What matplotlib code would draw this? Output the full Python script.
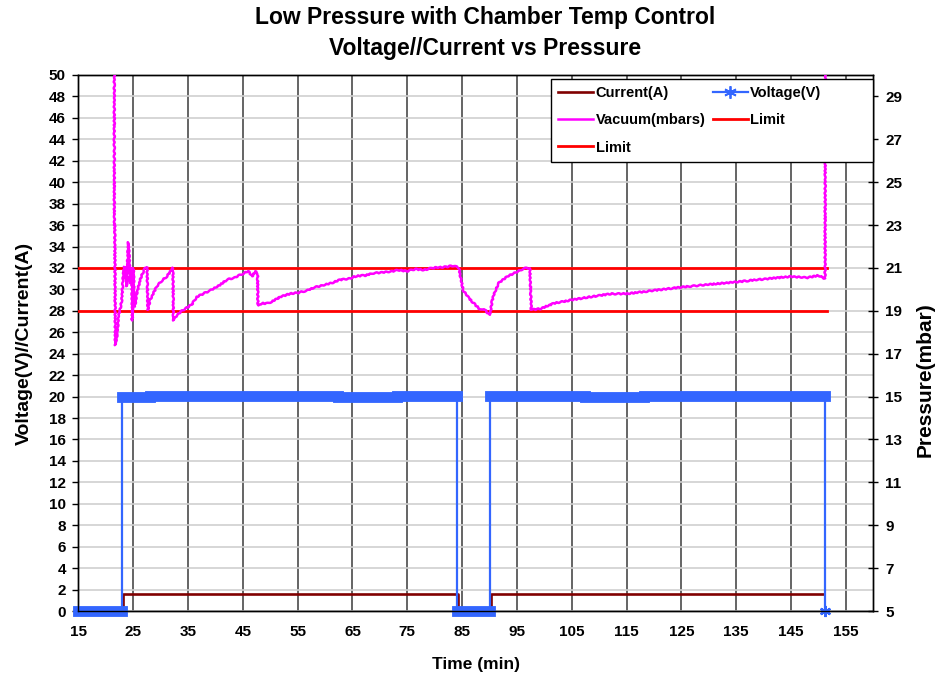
import matplotlib
matplotlib.use('Agg')
import matplotlib.pyplot as plt
from matplotlib.lines import Line2D

plt.rcParams['font.family'] = ['Liberation Sans', 'DejaVu Sans']
plt.rcParams['font.weight'] = 'bold'

# ---------------- data ----------------
title_text = "Low Pressure with Chamber Temp Control\nVoltage//Current vs Pressure"
x_label = "Time (min)"
y_left_label = "Voltage(V)//Current(A)"
y_right_label = "Pressure(mbar)"

x_ticks = [15, 25, 35, 45, 55, 65, 75, 85, 95, 105, 115, 125, 135, 145, 155]
y_left_ticks = list(range(0, 51, 2))
y_right_ticks = list(range(5, 30, 2))

# Voltage (V) step trace
volt_time = [15.0, 22.9, 22.9, 28.1, 28.1, 62.4, 62.4, 73.1, 73.1, 84.0, 84.0,
             90.1, 90.1, 107.5, 107.5, 118.1, 118.1, 151.2, 151.2]
volt_vals = [0.0, 0.0, 20.0, 20.0, 20.1, 20.1, 20.0, 20.0, 20.1, 20.1, 0.0,
             0.0, 20.1, 20.1, 20.0, 20.0, 20.1, 20.1, 0.0]

# Current (A)
curr_time = [15.0, 23.2, 23.2, 84.2, 84.2, 90.2, 90.2, 151.0]
curr_vals = [0.0, 0.0, 1.55, 1.55, 0.0, 0.0, 1.55, 1.55]

# Vacuum (mbar), right axis
vac_time = [21.55, 21.57, 21.65, 21.75, 22.12, 22.30, 22.61, 22.93, 23.20, 23.40,
            23.55, 23.71, 23.84, 24.00, 24.13, 24.31, 24.44, 24.62, 24.75, 24.86,
            25.04, 25.15, 25.30, 25.66, 26.27, 26.80, 27.18, 27.55, 27.67, 28.09,
            29.32, 30.20, 31.14, 32.24, 32.35, 32.97, 33.90, 34.80, 35.70, 36.62,
            37.80, 39.05, 40.50, 42.10, 43.50, 45.13, 46.00, 46.67, 47.27, 47.69,
            47.76, 48.50, 49.50, 50.32, 51.83, 53.66, 55.20, 56.71, 58.20, 59.74,
            61.20, 62.79, 64.30, 65.84, 67.30, 68.87, 70.40, 71.92, 73.40, 74.97,
            76.50, 78.00, 79.50, 81.05, 82.10, 83.19, 84.00, 84.39, 85.20, 86.20,
            87.13, 88.35, 88.96, 89.50, 90.00, 90.20, 90.49, 91.00, 91.70, 93.23,
            95.06, 96.27, 97.36, 97.62, 99.30, 101.74, 104.79, 107.84, 112.10, 115.10,
            120.00, 124.90, 130.00, 135.20, 140.00, 145.00, 148.00, 150.00, 151.20, 151.30]
vac_mbar = [35.0, 23.0, 23.0, 17.4, 17.95, 18.75, 19.05, 19.5, 20.75, 21.05,
            20.5, 21.05, 20.15, 21.5, 22.2, 21.35, 20.3, 21.0, 20.75, 18.55,
            21.0, 20.0, 19.2, 19.8, 20.45, 20.8, 21.0, 21.05, 19.05, 19.5,
            20.15, 20.4, 20.6, 21.0, 18.55, 18.8, 19.0, 19.15, 19.3, 19.65,
            19.8, 19.95, 20.15, 20.45, 20.55, 20.75, 20.85, 20.6, 20.85, 20.75,
            19.25, 19.35, 19.35, 19.43, 19.65, 19.8, 19.85, 19.95, 20.1, 20.2,
            20.3, 20.45, 20.5, 20.63, 20.65, 20.75, 20.8, 20.83, 20.9, 20.85,
            20.95, 20.9, 21.0, 21.03, 21.05, 21.1, 21.05, 21.0, 19.95, 19.6,
            19.35, 19.05, 19.1, 18.95, 18.8, 19.0, 19.5, 19.9, 20.3, 20.6,
            20.83, 20.98, 21.0, 19.05, 19.1, 19.35, 19.5, 19.63, 19.79, 19.8,
            19.95, 20.1, 20.23, 20.35, 20.48, 20.6, 20.55, 20.65, 20.5, 35.0]

# Limits (mbar)
limit_time = [15.0, 151.5]
limit_upper = [21.0, 21.0]
limit_lower = [19.0, 19.0]

# ---------------- styles ----------------
c_curr = '#800000'
c_volt = '#3366FF'
c_vac = '#FF00FF'
c_lim = '#FF0000'
star = (6, 2, 0)

fig = plt.figure(figsize=(9.37, 6.75), dpi=100)
ax = fig.add_axes([0.0836, 0.0948, 0.8484, 0.7941])
ax2 = ax.twinx()

ax.set_xlim(15, 160)
ax.set_ylim(0, 50)
ax2.set_ylim(5, 30)
ax.set_xticks(x_ticks)
ax.set_yticks(y_left_ticks)
ax2.set_yticks(y_right_ticks)

ax.set_axisbelow(True)
ax.yaxis.grid(True, color='#d0d0d0', lw=1.2)
ax.xaxis.grid(True, color='#3a3a3a', lw=1.1)

for a in (ax, ax2):
    for s in a.spines.values():
        s.set_color('black')
        s.set_linewidth(1.0)

ax.tick_params(axis='x', length=0, pad=10, labelsize=11)
ax.tick_params(axis='y', direction='out', length=4, width=1, pad=5, labelsize=11)
ax2.tick_params(axis='y', direction='inout', length=7, width=1, pad=5, labelsize=11)
for lab in ax.get_xticklabels() + ax.get_yticklabels() + ax2.get_yticklabels():
    lab.set_fontweight('bold')

# current
ax.plot(curr_time, curr_vals, color=c_curr, lw=1.9, zorder=3)
# voltage thin line
ax.plot(volt_time, volt_vals, color=c_volt, lw=1.6, zorder=4)
# dense marker band on flat runs
for i in range(len(volt_time) - 1):
    if volt_vals[i] == volt_vals[i + 1] and volt_time[i + 1] > volt_time[i]:
        ax.plot(volt_time[i:i + 2], volt_vals[i:i + 2], color=c_volt, lw=7.8,
                solid_capstyle='projecting', zorder=4, clip_on=False)
ax.plot(volt_time[-1:], volt_vals[-1:], ls='none', marker=star, ms=8, mew=1.6,
        color=c_volt, zorder=5, clip_on=False)

# limits and vacuum on the pressure axis
ax2.plot(limit_time, limit_upper, color=c_lim, lw=2.0, zorder=3)
ax2.plot(limit_time, limit_lower, color=c_lim, lw=2.0, zorder=3)
vac_line, = ax2.plot(vac_time, vac_mbar, color=c_vac, lw=1.8, zorder=4)
vac_line.set_sketch_params(scale=0.6, length=5, randomness=2)

# text
fig.text(485 / 937, 1 - 33 / 675, title_text, ha='center', va='center',
         fontsize=16.5, fontweight='bold', linespacing=1.4)
fig.text(476 / 937, 1 - 665 / 675, x_label, ha='center', va='center',
         fontsize=12.5, fontweight='bold')
fig.text(24 / 937, 1 - 343 / 675, y_left_label, ha='center', va='center',
         rotation=90, fontsize=14, fontweight='bold')
fig.text(925 / 937, 1 - 380 / 675, y_right_label, ha='center', va='center',
         rotation=90, fontsize=15, fontweight='bold')

# legend (third column left empty to reproduce the wide box)
blank = Line2D([], [], color='none', lw=0)
handles = [
    Line2D([], [], color=c_curr, lw=1.9),
    Line2D([], [], color=c_vac, lw=1.8),
    Line2D([], [], color=c_lim, lw=2.0),
    Line2D([], [], color=c_volt, lw=1.6, marker=star, ms=9, mew=1.3),
    Line2D([], [], color=c_lim, lw=2.0),
    blank, blank, blank, blank,
]
labels = ['Current(A)', 'Vacuum(mbars)', 'Limit', 'Voltage(V)', 'Limit',
          '', '', '', '']
leg = fig.legend(handles, labels, ncol=3, loc='upper right',
                 bbox_to_anchor=(873 / 937, 1 - 79 / 675), borderaxespad=0,
                 frameon=True, fancybox=False, shadow=False, framealpha=1,
                 edgecolor='black', prop={'size': 10.5, 'weight': 'bold'},
                 handlelength=2.4, handletextpad=0.15, columnspacing=0.5,
                 labelspacing=0.9, borderpad=0.5)
leg.get_frame().set_linewidth(1.0)
leg.set_zorder(10)

fig.savefig('out.png', dpi=100)
